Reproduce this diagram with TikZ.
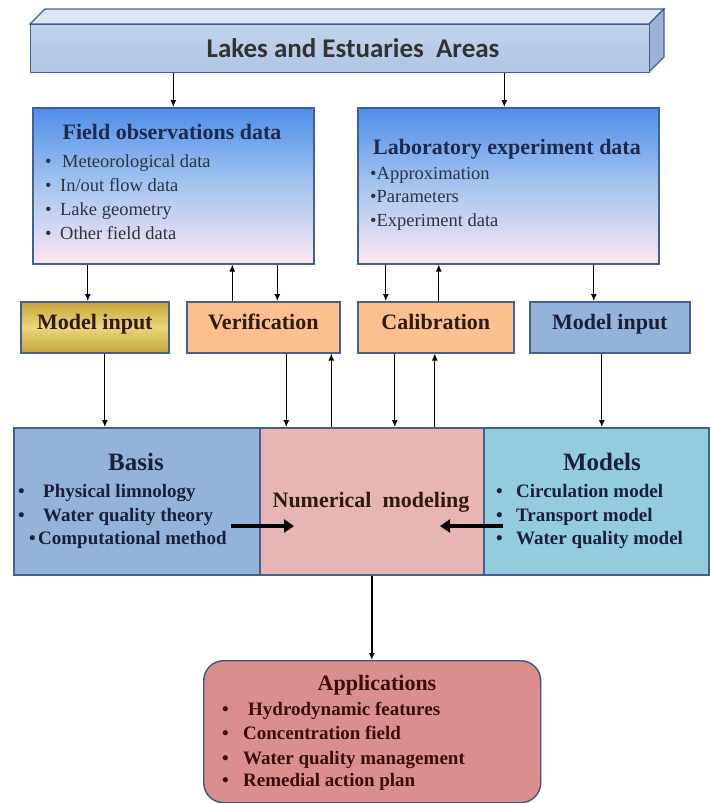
\documentclass[tikz,border=0pt]{standalone}
\usepackage{fontspec}
\setmainfont{Liberation Serif}
\newfontfamily\calib{Carlito}
\usetikzlibrary{arrows.meta}
\definecolor{edge}{HTML}{43618C}
\definecolor{barfront}{HTML}{C3D4EC}
\definecolor{barfrontb}{HTML}{AFC4E3}
\definecolor{bartop}{HTML}{DCE6F4}
\definecolor{barside}{HTML}{9CB3D6}
\definecolor{gtop}{HTML}{4E8EEA}
\definecolor{gmid}{HTML}{A7C5EF}
\definecolor{gbot}{HTML}{FCE6EF}
\definecolor{ytop}{HTML}{C6A637}
\definecolor{ymid}{HTML}{EAD67E}
\definecolor{peach}{HTML}{FBC08E}
\definecolor{steel}{HTML}{95B3D9}
\definecolor{pinkbox}{HTML}{E7B5B3}
\definecolor{cyanbox}{HTML}{93CCDC}
\definecolor{appfill}{HTML}{DB8E8E}
\definecolor{navy}{HTML}{1B2A52}
\definecolor{darknavy}{HTML}{1A2038}
\definecolor{itemcol}{HTML}{2E3442}
\definecolor{brownk}{HTML}{2E1A0E}
\definecolor{maroon}{HTML}{3A0C0C}
\newcommand{\bul}[2][15pt]{\makebox[#1][l]{\textbullet}#2}
\tikzset{
  box/.style={draw=edge, line width=1.6pt, anchor=north west, inner sep=0pt},
  arr/.style={-{Latex[length=7pt,width=6pt]}, line width=1.1pt, black},
  fat/.style={-{Triangle[length=10pt,width=13pt]}, line width=3.6pt, black},
  item/.style={anchor=west, inner sep=0pt, text height=0.7em, text depth=0.2em},
  ttl/.style={inner sep=0pt, text height=0.7em, text depth=0.2em, font=\fontsize{22}{24}\selectfont\bfseries},
}
\begin{document}
\begin{tikzpicture}[x=1pt,y=-1pt]
\useasboundingbox (0,0) rectangle (710,803);
% top 3D bar
\fill[bartop, draw=edge, line width=1.2pt] (30,24) -- (45,9) -- (664,9) -- (649,24) -- cycle;
\fill[barside, draw=edge, line width=1.2pt] (649,24) -- (664,9) -- (664,57) -- (649,72) -- cycle;
\node[box, line width=1.2pt, top color=barfront, bottom color=barfrontb, minimum width=619pt, minimum height=48pt] (lakes) at (30,24) {};
\node[inner sep=0pt, font=\calib\bfseries\fontsize{27}{30}\selectfont, text=black!80] (lakest) at (353,48) {Lakes and Estuaries\ \ Areas};

% data boxes
\node[box, top color=gtop, bottom color=gbot, middle color=gmid, minimum width=281pt, minimum height=156pt] (field) at (32,107) {};
\node[box, top color=gtop, bottom color=gbot, middle color=gmid, minimum width=301pt, minimum height=156pt] (lab) at (357,107) {};

\node[ttl, text=navy] (fieldt) at (172,137) {Field observations data};
\begin{scope}[every node/.style={item, font=\fontsize{18.5}{20}\selectfont, text=itemcol}]
\node (f1) at (45,165) {\bul[17pt]{Meteorological data}};
\node (f2) at (45,189) {\bul{In/out flow data}};
\node (f3) at (45,213) {\bul{Lake geometry}};
\node (f4) at (45,237) {\bul{Other field data}};
\end{scope}

\node[ttl, text=navy] (labt) at (507,152) {Laboratory experiment data};
\begin{scope}[every node/.style={item, font=\fontsize{18.5}{20}\selectfont, text=itemcol}]
\node (l1) at (370,177) {\textbullet Approximation};
\node (l2) at (370,200) {\textbullet Parameters};
\node (l3) at (370,224) {\textbullet Experiment data};
\end{scope}

% middle row
\begin{scope}[every node/.style={box, minimum height=51pt}]
\node[top color=ytop, bottom color=ytop, middle color=ymid, minimum width=148pt] (mi1) at (20,301) {};
\node[fill=peach, minimum width=153pt] (ver) at (186,301) {};
\node[fill=peach, minimum width=156pt] (cal) at (357,301) {};
\node[fill=steel, minimum width=160pt] (mi2) at (529,301) {};
\end{scope}
\begin{scope}[every node/.style={inner sep=0pt, text height=0.7em, text depth=0.2em, font=\fontsize{22}{24}\selectfont\bfseries}]
\node[text=brownk] (mi1t) at (mi1.center) {Model input};
\node[text=brownk] (vert) at (ver.center) {Verification};
\node[text=brownk] (calt) at (cal.center) {Calibration};
\node[text=darknavy] (mi2t) at (mi2.center) {Model input};
\end{scope}

% bottom band
\node[box, fill=steel, minimum width=246pt, minimum height=147pt] (basis) at (13,427) {};
\node[box, fill=cyanbox, minimum width=225pt, minimum height=147pt] (models) at (483,427) {};
\node[box, fill=pinkbox, minimum width=224pt, minimum height=147pt] (num) at (259,427) {};

\node[ttl, font=\fontsize{25}{27}\selectfont\bfseries, text=darknavy] (basist) at (136,468) {Basis};
\begin{scope}[every node/.style={item, font=\fontsize{19}{21}\selectfont\bfseries, text=darknavy}]
\node (b1) at (18,495) {\bul[25pt]{Physical limnology}};
\node (b2) at (18,519) {\bul[25pt]{Water quality theory}};
\node (b3) at (29,542) {\bul[9pt]{Computational method}};
\end{scope}

\node[ttl, text=brownk] (numt) at (371,505) {Numerical\ \ modeling};

\node[ttl, font=\fontsize{25}{27}\selectfont\bfseries, text=darknavy] (modelst) at (602,468) {Models};
\begin{scope}[every node/.style={item, font=\fontsize{19}{21}\selectfont\bfseries, text=darknavy}]
\node (m1) at (496,495) {\bul[20pt]{Circulation model}};
\node (m2) at (496,519) {\bul[20pt]{Transport model}};
\node (m3) at (496,542) {\bul[20pt]{Water quality model}};
\end{scope}

% applications
\node[box, draw=edge!90!black, line width=1.4pt, fill=appfill, rounded corners=20pt, minimum width=337pt, minimum height=142pt] (app) at (203,660) {};
\node[ttl, text=maroon] (appt) at (377,688) {Applications};
\begin{scope}[every node/.style={item, font=\fontsize{19}{21}\selectfont\bfseries, text=maroon}]
\node (a1) at (222,713) {\bul[26pt]{Hydrodynamic features}};
\node (a2) at (222,737) {\bul[21pt]{Concentration field}};
\node (a3) at (222,762) {\bul[21pt]{Water quality management}};
\node (a4) at (222,784) {\bul[21pt]{Remedial action plan}};
\end{scope}

% arrows top
\draw[arr] (lakes.south -| field.north) -- (field.north);
\draw[arr] ([xshift=-4pt]lakes.south -| lab.north) -- ([xshift=-4pt]lab.north);
% field to middle
\draw[arr] ([xshift=-7pt]field.south -| mi1.north) -- ([xshift=-7pt]mi1.north);
\draw[arr] ([xshift=-31pt]ver.north) -- ([xshift=-31pt]ver.north |- field.south);
\draw[arr] ([xshift=14pt]ver.north |- field.south) -- ([xshift=14pt]ver.north);
\draw[arr] ([xshift=-50pt]cal.north |- lab.south) -- ([xshift=-50pt]cal.north);
\draw[arr] ([xshift=3pt]cal.north) -- ([xshift=3pt]cal.north |- lab.south);
\draw[arr] ([xshift=-16pt]mi2.north |- lab.south) -- ([xshift=-16pt]mi2.north);
% middle to bottom
\draw[arr] ([xshift=10pt]mi1.south) -- ([xshift=10pt]mi1.south |- basis.north);
\draw[arr] ([xshift=23pt]ver.south) -- ([xshift=23pt]ver.south |- num.north);
\draw[arr] ([xshift=68pt]ver.south |- num.north) -- ([xshift=68pt]ver.south);
\draw[arr] ([xshift=-41pt]cal.south) -- ([xshift=-41pt]cal.south |- num.north);
\draw[arr] ([xshift=-1pt]cal.south |- num.north) -- ([xshift=-1pt]cal.south);
\draw[arr] ([xshift=-8pt]mi2.south) -- ([xshift=-8pt]mi2.south |- models.north);
% thick arrows
\coordinate (la) at (231,526);
\coordinate (lb) at (294,526);
\coordinate (ra) at (503,526);
\coordinate (rb) at (440,526);
\draw[fat] (la) -- (lb);
\draw[fat] (ra) -- (rb);
% to applications
\draw[arr, line width=1.5pt] (num.south) -- (app.north -| num.south);
\end{tikzpicture}
\end{document}
